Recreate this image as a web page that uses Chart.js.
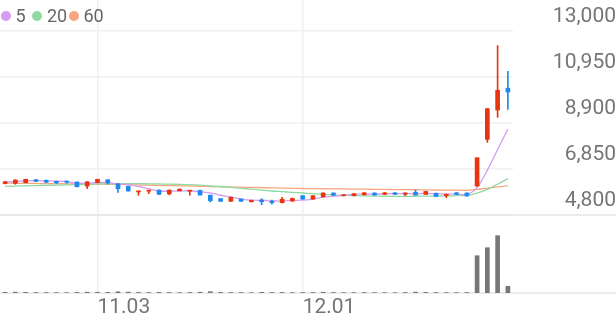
<!DOCTYPE html>
<html>
<head>
<meta charset="utf-8">
<script src="https://cdn.jsdelivr.net/npm/chart.js@4.4.0/dist/chart.umd.min.js"></script>
<style>
  html, body { margin: 0; padding: 0; background: #fff; }
  #wrap { position: relative; width: 616px; height: 321px; }
  #legend { position: absolute; left: 0; top: 0; font: 18px Roboto, sans-serif; color: #666; }
  #legend .dot { position: absolute; width: 10px; height: 10px; border-radius: 50%; top: 10.5px; }
  #legend .txt { position: absolute; top: 5px; line-height: 21px; }
</style>
</head>
<body>
<div id="wrap">
  <canvas id="chart" width="616" height="321"></canvas>
  <div id="legend"></div>
</div>
<script>
/* ==================== DATA ==================== */
const dates = [
    '10.21', '10.22', '10.23', '10.24', '10.27', '10.28', '10.29', '10.30', '10.31',
    '11.03', '11.04', '11.05', '11.06', '11.07', '11.10', '11.11', '11.12', '11.13', '11.14',
    '11.17', '11.18', '11.19', '11.20', '11.21', '11.24', '11.25', '11.26', '11.27', '11.28',
    '12.01', '12.02', '12.03', '12.04', '12.05', '12.08', '12.09', '12.10', '12.11', '12.12',
    '12.15', '12.16', '12.17', '12.18', '12.19', '12.22', '12.23', '12.24', '12.26', '12.29', '12.30'
];
const opens = [
    6200, 6210, 6240, 6370, 6340, 6300, 6310, 6270, 6090, 6240,
    6370, 6190, 6080, 5830, 5860, 5910, 5740, 5880, 5860, 5900,
    5680, 5530, 5410, 5510, 5390, 5470, 5410, 5350, 5420, 5660,
    5510, 5610, 5780, 5660, 5660, 5700, 5780, 5720, 5790, 5720,
    5810, 5720, 5770, 5660, 5790, 5780, 6090, 8170, 9480, 10450
];
const highs = [
    6300, 6370, 6400, 6390, 6370, 6310, 6320, 6280, 6290, 6400,
    6380, 6200, 6090, 5870, 5910, 5920, 5920, 5970, 5900, 5910,
    5690, 5530, 5600, 5520, 5470, 5530, 5470, 5590, 5560, 5670,
    5670, 5790, 5790, 5720, 5760, 5800, 5790, 5800, 5800, 5790,
    5910, 5860, 5780, 5730, 5800, 5790, 7350, 9540, 12350, 11200
];
const lows = [
    6180, 6170, 6230, 6290, 6240, 6190, 6210, 6050, 5970, 6230,
    6180, 5810, 5860, 5680, 5750, 5710, 5700, 5870, 5680, 5680,
    5380, 5400, 5400, 5400, 5380, 5260, 5280, 5340, 5410, 5500,
    5500, 5600, 5670, 5650, 5650, 5690, 5680, 5710, 5710, 5660,
    5680, 5710, 5620, 5570, 5710, 5640, 6080, 8040, 9150, 9510
];
const closes = [
    6280, 6360, 6390, 6300, 6260, 6240, 6260, 6060, 6280, 6390,
    6230, 5970, 5870, 5870, 5900, 5720, 5910, 5950, 5900, 5690,
    5440, 5410, 5590, 5410, 5450, 5390, 5350, 5500, 5540, 5510,
    5660, 5780, 5680, 5700, 5750, 5790, 5690, 5790, 5720, 5780,
    5690, 5850, 5630, 5720, 5720, 5650, 7350, 9540, 10360, 10280
];
const volumes = [
    120000, 150000, 110000, 90000, 80000, 70000, 60000, 100000, 140000, 130000,
    110000, 210000, 160000, 100000, 80000, 120000, 90000, 70000, 80000, 140000,
    230000, 110000, 90000, 80000, 60000, 120000, 90000, 100000, 70000, 80000,
    90000, 130000, 80000, 60000, 70000, 90000, 60000, 70000, 60000, 80000,
    150000, 110000, 90000, 70000, 60000, 80000, 6500000, 7900000, 9990000, 1170000
];
const ma5 = [
    6270, 6300, 6320, 6330, 6320, 6310, 6290, 6220, 6220, 6250,
    6240, 6190, 6150, 6070, 5970, 5870, 5860, 5870, 5880, 5830,
    5780, 5680, 5610, 5510, 5460, 5450, 5440, 5420, 5450, 5460,
    5510, 5600, 5640, 5670, 5720, 5740, 5720, 5750, 5750, 5760,
    5740, 5770, 5740, 5740, 5730, 5720, 6020, 6800, 7720, 8630
];
const ma20 = [
    6080, 6090, 6100, 6110, 6120, 6130, 6140, 6150, 6165, 6180,
    6190, 6195, 6195, 6195, 6190, 6185, 6175, 6165, 6150, 6130,
    6100, 6070, 6030, 5990, 5950, 5910, 5870, 5840, 5810, 5780,
    5750, 5720, 5700, 5680, 5660, 5650, 5640, 5635, 5630, 5630,
    5635, 5640, 5645, 5650, 5660, 5670, 5770, 5940, 6170, 6420
];
const ma60 = [
    6220, 6215, 6210, 6205, 6200, 6195, 6190, 6185, 6180, 6175,
    6170, 6160, 6150, 6140, 6130, 6120, 6110, 6100, 6090, 6080,
    6070, 6060, 6050, 6040, 6030, 6020, 6010, 6000, 5990, 5980,
    5975, 5970, 5965, 5960, 5955, 5950, 5945, 5940, 5935, 5930,
    5925, 5920, 5915, 5910, 5905, 5900, 5945, 5995, 6050, 6110
];
const priceTicks = [4800, 6850, 8900, 10950, 13000];
const maNames = ['5', '20', '60'];

/* ==================== STYLE ==================== */
const UP = '#e8340f';
const DOWN = '#1f88f0';
const MA_COLORS = ['#d89bf2', '#8fd9a3', '#f7a67f'];
const LABEL = '#757575';
const GRID = '#f0f0f0';

const isUp = (i) => closes[i] >= opens[i];
const candleColor = (ctx) => (isUp(ctx.dataIndex) ? UP : DOWN);
const isMonthStart = (i) => i > 0 && dates[i].slice(0, 2) !== dates[i - 1].slice(0, 2);

// legend (HTML, top-left): [dot left, text left]
const legendPos = [[1, 15.5], [32, 47], [69, 83.5]];
const legendEl = document.getElementById('legend');
maNames.forEach((name, i) => {
    const dot = document.createElement('span');
    dot.className = 'dot';
    dot.style.left = legendPos[i][0] + 'px';
    dot.style.background = MA_COLORS[i];
    const txt = document.createElement('span');
    txt.className = 'txt';
    txt.style.left = legendPos[i][1] + 'px';
    txt.textContent = name;
    legendEl.appendChild(dot);
    legendEl.appendChild(txt);
});

// full-width separators under the price and volume panels
const panelLines = {
    id: 'panelLines',
    beforeDatasetsDraw(chart) {
        const { ctx, width } = chart;
        ctx.save();
        ctx.strokeStyle = '#e4e4e4';
        ctx.lineWidth = 1.5;
        [chart.scales.y.bottom, chart.scales.vol.bottom].forEach((y) => {
            ctx.beginPath();
            ctx.moveTo(0, y);
            ctx.lineTo(width, y);
            ctx.stroke();
        });
        ctx.restore();
    },
};

Chart.defaults.font.family = 'Roboto';

const maDataset = (data, i) => ({
    type: 'line',
    data: data,
    yAxisID: 'y',
    borderColor: MA_COLORS[i],
    borderWidth: 1.3,
    pointRadius: 0,
    tension: 0.3,
    order: 3,
});

new Chart(document.getElementById('chart'), {
    type: 'bar',
    data: {
        labels: dates,
        datasets: [
            {
                data: dates.map((d, i) => [opens[i], closes[i]]),
                yAxisID: 'y',
                backgroundColor: candleColor,
                barThickness: 4,
                minBarLength: 1,
                grouped: false,
                order: 0,
            },
            {
                data: dates.map((d, i) => [lows[i], highs[i]]),
                yAxisID: 'y',
                backgroundColor: candleColor,
                barThickness: 1,
                grouped: false,
                order: 1,
            },
            {
                data: volumes,
                yAxisID: 'vol',
                backgroundColor: '#777777',
                barThickness: 4,
                grouped: false,
                order: 2,
            },
            maDataset(ma5, 0),
            maDataset(ma20, 1),
            maDataset(ma60, 2),
        ],
    },
    options: {
        responsive: false,
        animation: false,
        events: [],
        layout: { padding: 0 },
        plugins: { legend: { display: false }, tooltip: { enabled: false } },
        scales: {
            x: {
                offset: true,
                grid: { offset: false, color: GRID, lineWidth: 1.5, drawTicks: false },
                border: { display: false },
                ticks: {
                    autoSkip: false,
                    maxRotation: 0,
                    align: 'start',
                    padding: 2,
                    color: LABEL,
                    font: { size: 21 },
                    callback: (v) => dates[v],
                },
                afterBuildTicks: (s) => { s.ticks = s.ticks.filter((t) => isMonthStart(t.value)); },
                afterFit: (s) => { s.height = 28; s.paddingLeft = 0; s.paddingRight = 0; },
            },
            y: {
                position: 'right',
                stack: 'panels',
                stackWeight: 215,
                min: 4800,
                max: 14381.5,
                grid: { color: GRID, lineWidth: 1.5, drawTicks: false },
                border: { display: false },
                ticks: {
                    crossAlign: 'far',
                    padding: 36,
                    labelOffset: -14,
                    color: LABEL,
                    font: { size: 21 },
                    callback: (v) => v.toLocaleString('en-US'),
                },
                afterBuildTicks: (s) => { s.ticks = priceTicks.map((v) => ({ value: v })); },
                afterFit: (s) => { s.width = 103; s.paddingTop = 0; s.paddingBottom = 0; },
            },
            vol: {
                position: 'right',
                stack: 'panels',
                stackWeight: 78,
                min: 0,
                max: 13600000,
                grid: { display: false },
                border: { display: false },
                ticks: { display: false },
                afterFit: (s) => { s.width = 103; s.paddingTop = 0; s.paddingBottom = 0; },
            },
        },
    },
    plugins: [panelLines],
});
</script>
</body>
</html>
